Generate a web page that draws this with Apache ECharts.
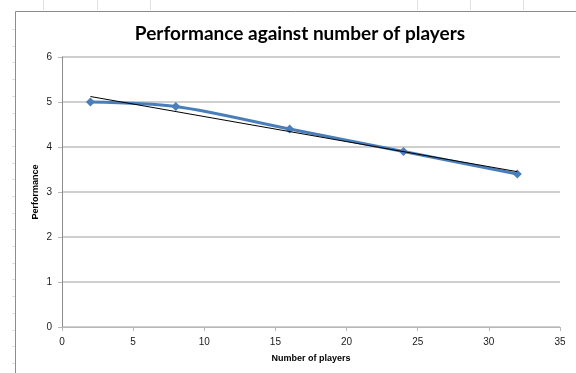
<!DOCTYPE html>
<html>
<head>
<meta charset="utf-8">
<script src="https://cdn.jsdelivr.net/npm/echarts@6/dist/echarts.min.js"></script>
<style>
  html, body { margin: 0; padding: 0; background: #fff; }
  #chart { width: 576px; height: 373px; }
</style>
</head>
<body>
<div id="chart"></div>
<script>
// Players per game and measured performance
const players = [2, 8, 16, 24, 32];
const performance = [5.0, 4.9, 4.4, 3.9, 3.4];

const xTicks = { min: 0, max: 35, interval: 5 };
const yTicks = { min: 0, max: 6, interval: 1 };

// Least-squares linear trendline through the measured points
function linearFit(xs, ys) {
  const n = xs.length;
  const mx = xs.reduce((a, b) => a + b, 0) / n;
  const my = ys.reduce((a, b) => a + b, 0) / n;
  let sxy = 0, sxx = 0;
  for (let i = 0; i < n; i++) {
    sxy += (xs[i] - mx) * (ys[i] - my);
    sxx += (xs[i] - mx) * (xs[i] - mx);
  }
  const slope = sxy / sxx;
  return { slope, intercept: my - slope * mx };
}
const fit = linearFit(players, performance);
const xFirst = players[0], xLast = players[players.length - 1];
const trend = [
  [xFirst, fit.intercept + fit.slope * xFirst],
  [xLast, fit.intercept + fit.slope * xLast]
];

const chart = echarts.init(document.getElementById('chart'), null, { renderer: 'canvas' });

// Worksheet cell edges around the embedded chart frame
const sheetMarks = [];
[43, 97, 150, 417, 470, 523].forEach(x => {
  sheetMarks.push({ type: 'line', shape: { x1: x + 0.5, y1: 0, x2: x + 0.5, y2: 10 },
    style: { stroke: '#e0e0e0', lineWidth: 1 }, silent: true });
});
for (let y = 29; y < 373; y += 16.7) {
  const yy = Math.round(y) + 0.5;
  sheetMarks.push({ type: 'line', shape: { x1: 12, y1: yy, x2: 15, y2: yy },
    style: { stroke: '#e0e0e0', lineWidth: 1 }, silent: true });
}
// Chart frame (left and top edges visible)
sheetMarks.push({ type: 'polyline', shape: { points: [[15.5, 373], [15.5, 11.5], [576, 11.5]] },
  style: { stroke: '#8c8c8c', fill: null, lineWidth: 1 }, silent: true });
// Vertical axis title
sheetMarks.push({
  type: 'text', x: 36, y: 192, rotation: Math.PI / 2, silent: true,
  style: {
    text: 'Performance', align: 'center', verticalAlign: 'middle',
    font: 'bold 9px "Liberation Sans", Arial, sans-serif', fill: '#000'
  }
});

const labelFont = { fontFamily: 'Liberation Sans, Arial, sans-serif', fontSize: 10, color: '#1a1a1a' };

chart.setOption({
  animation: false,
  backgroundColor: '#fff',
  title: {
    text: 'Performance against number of players',
    left: 295,
    textAlign: 'center',
    top: 19,
    textStyle: { fontFamily: 'Lato, Open Sans, sans-serif', fontWeight: 'bold', fontSize: 19, color: '#000' }
  },
  graphic: sheetMarks,
  grid: { left: 62, right: 16, top: 57, bottom: 46 },
  xAxis: {
    type: 'value',
    min: xTicks.min, max: xTicks.max, interval: xTicks.interval,
    name: 'Number of players',
    nameLocation: 'middle',
    nameGap: 27,
    nameTextStyle: { fontFamily: 'Liberation Sans, Arial, sans-serif', fontSize: 9, fontWeight: 'bold', color: '#000' },
    axisLine: { show: true, lineStyle: { color: '#b8b8b8', width: 1 } },
    axisTick: { show: true, length: 4, lineStyle: { color: '#b8b8b8' } },
    axisLabel: Object.assign({ margin: 10 }, labelFont),
    splitLine: { show: false }
  },
  yAxis: {
    type: 'value',
    min: yTicks.min, max: yTicks.max, interval: yTicks.interval,
    axisLine: { show: true, lineStyle: { color: '#8c8c8c', width: 1 } },
    axisTick: { show: true, length: 4, lineStyle: { color: '#b8b8b8' } },
    axisLabel: Object.assign({ margin: 10 }, labelFont),
    splitLine: { show: true, lineStyle: { color: '#bfbfbf', width: 1.5 } }
  },
  series: [
    {
      name: 'Performance',
      type: 'line',
      data: players.map((x, i) => [x, performance[i]]),
      smooth: 0.3,
      symbol: 'diamond',
      symbolSize: 9,
      lineStyle: { color: '#4a7ebb', width: 3 },
      itemStyle: { color: '#4a7ebb' },
      z: 3
    },
    {
      name: 'Trend',
      type: 'line',
      data: trend,
      symbol: 'none',
      lineStyle: { color: '#000', width: 1 },
      z: 4
    }
  ]
});
</script>
</body>
</html>
